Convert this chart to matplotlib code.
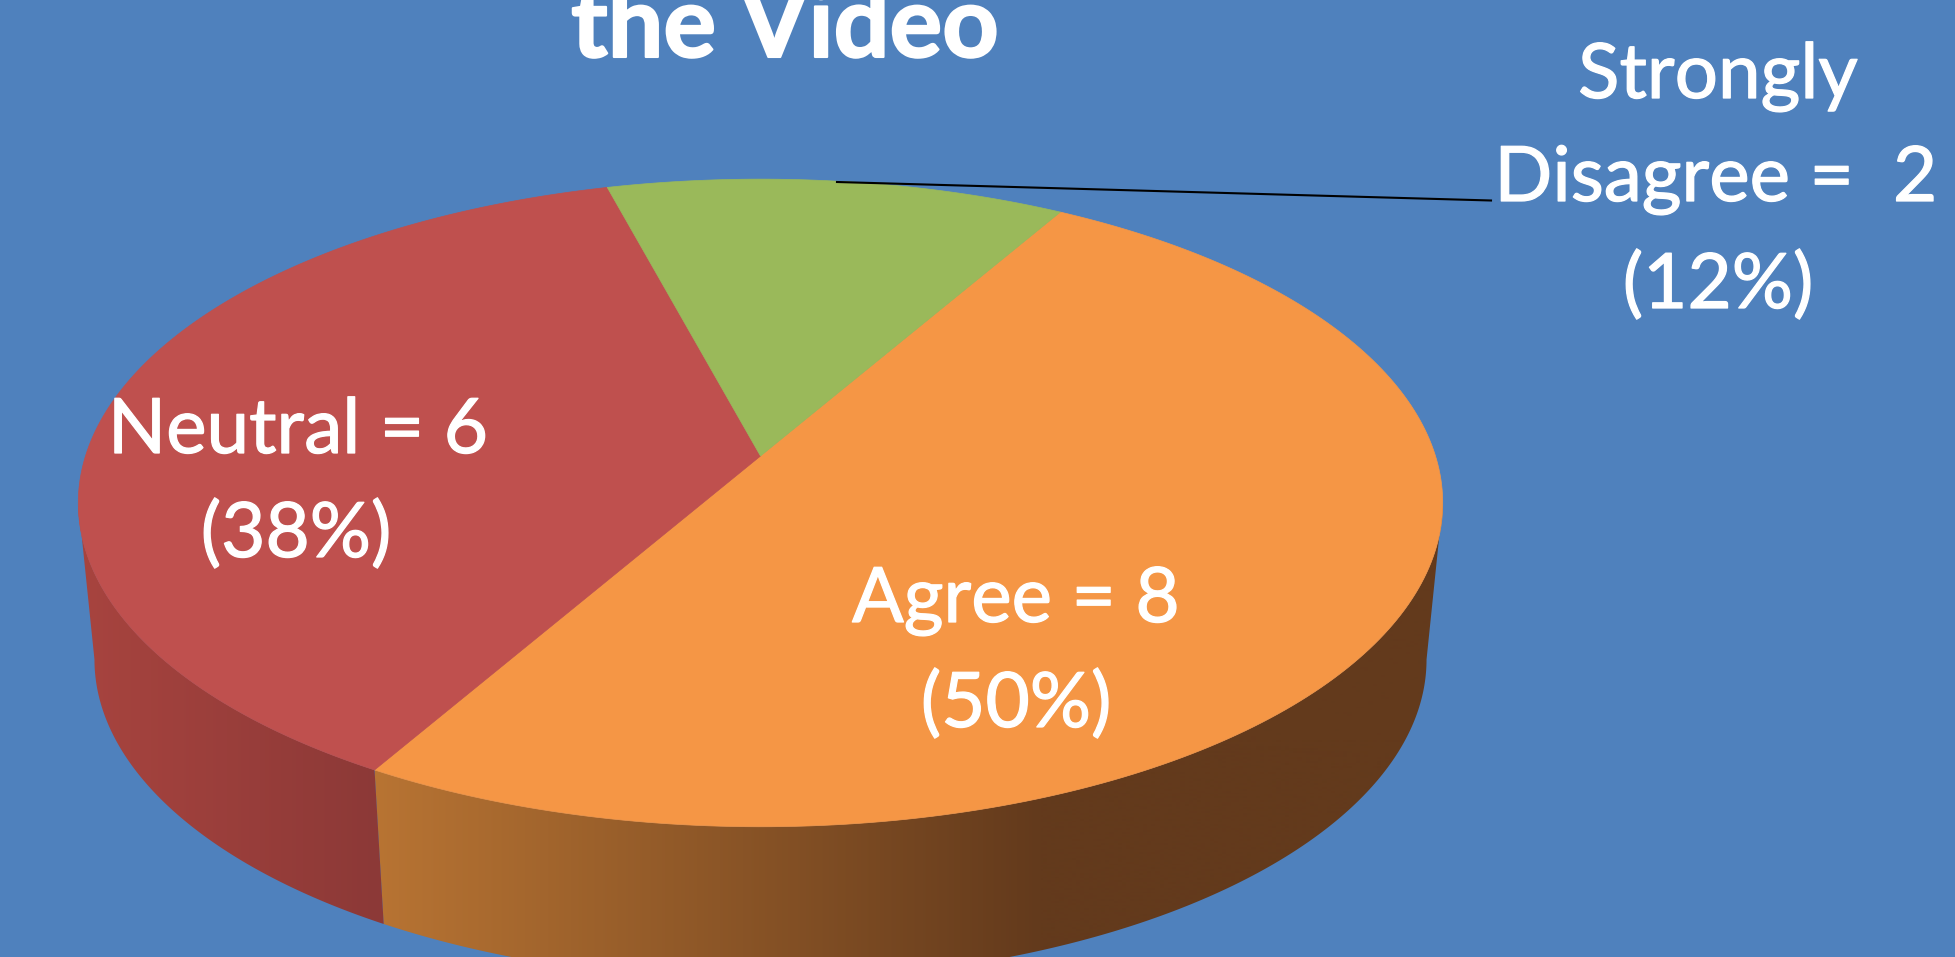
import matplotlib
matplotlib.use('Agg')

import numpy as np
import matplotlib.pyplot as plt
import matplotlib.patheffects as pe
from matplotlib.colors import to_rgb
from matplotlib.patches import Polygon

# Survey responses
categories = ['Agree', 'Neutral', 'Strongly Disagree']
counts = [8, 6, 2]
pct_labels = ['(50%)', '(38%)', '(12%)']
top_colors = ['#F59645', '#BF504E', '#9AB95A']

# Shading of the rim, from left to right (x in pixels, colour)
rim_stops = [
    ([375, 1040, 1460], ['#B87433', '#633A1C', '#633A1C']),
    ([75, 380], ['#A8443F', '#8C3937']),
    ([600, 1100], ['#9BBB59', '#7A9446']),
]

BACKGROUND = '#4F81BD'
START_ANGLE = 60
TILT = 0.145


# Perspective projection of a point on the unit circle, in pixels
def project(theta, cx, cy, half_w, depth):
    u, v = np.cos(theta), np.sin(theta)
    w = 1 + TILT * v
    return cx + half_w * u / w, cy - depth * v / w


def top_rim(theta):
    return project(theta, 760.5, 456, 675, 317)


def bottom_rim(theta):
    return project(theta, 760.5, 613, 659, 314)


fig = plt.figure(figsize=(19.55, 9.57), dpi=100, facecolor=BACKGROUND)
ax = fig.add_axes([0, 0, 1, 1])
ax.set_facecolor(BACKGROUND)
ax.axis('off')

# Wedge limits, running clockwise from the start angle
sweeps = 360 * np.array(counts) / sum(counts)
ends = START_ANGLE - np.cumsum(sweeps)
starts = ends + sweeps

# Only the front of the rim shows, up to where the outline is widest
widest = np.degrees(np.arcsin(TILT))

for a0, a1, (xs, cols) in zip(starts, ends, rim_stops):
    a0, a1 = min(a0, -widest), max(a1, -180 + widest)
    if a0 <= a1:
        continue
    t = np.radians(np.linspace(a0, a1, 200))
    tx, ty = top_rim(t)
    bx, by = bottom_rim(t)
    verts = np.column_stack([np.r_[tx, bx[::-1]], np.r_[ty, by[::-1]]])
    x_grid = np.arange(verts[:, 0].min(), verts[:, 0].max() + 1)
    rgb = np.array([to_rgb(c) for c in cols])
    shade = np.column_stack([np.interp(x_grid, xs, rgb[:, i]) for i in range(3)])
    im = ax.imshow(
        shade[np.newaxis, :, :], aspect='auto', zorder=1,
        extent=(x_grid[0], x_grid[-1], verts[:, 1].max(), verts[:, 1].min())
    )
    im.set_clip_path(Polygon(verts, closed=True, transform=ax.transData))

# Top face
for a0, a1, color in zip(starts, ends, top_colors):
    t = np.radians(np.linspace(a0, a1, 200))
    tx, ty = top_rim(t)
    verts = np.column_stack([np.r_[760.5, tx], np.r_[456, ty]])
    ax.add_patch(Polygon(verts, closed=True, facecolor=color,
                         edgecolor=color, linewidth=0.5, zorder=2))

# Leader line of the small slice
ax.plot([837, 1491], [182, 200.5], color='black', linewidth=1.5, zorder=3)

text_style = dict(color='white', family='Lato', ha='center', va='baseline', zorder=4)

title = ax.text(785, 57, 'the Video', fontsize=71, fontweight='bold', **text_style)
title.set_path_effects([pe.withStroke(linewidth=1.5, foreground='white')])

label_texts = [
    ax.text(298, 453, f'{categories[1]} = {counts[1]}', fontsize=55, **text_style),
    ax.text(296, 557, pct_labels[1], fontsize=55, **text_style),
    ax.text(1016, 622, f'{categories[0]} = {counts[0]}', fontsize=55, **text_style),
    ax.text(1016, 727, pct_labels[0], fontsize=55, **text_style),
]
first, second = categories[2].split()
label_texts += [
    ax.text(1718, 98, first, fontsize=55, **text_style),
    ax.text(1716, 201, f'{second} =  {counts[2]}', fontsize=55, **text_style),
    ax.text(1718, 308, pct_labels[2], fontsize=55, **text_style),
]
for label in label_texts:
    label.set_path_effects([pe.withStroke(linewidth=0.9, foreground='white')])

ax.set_xlim(0, 1955)
ax.set_ylim(957, 0)

fig.savefig('out.png', dpi=100, facecolor=BACKGROUND)
